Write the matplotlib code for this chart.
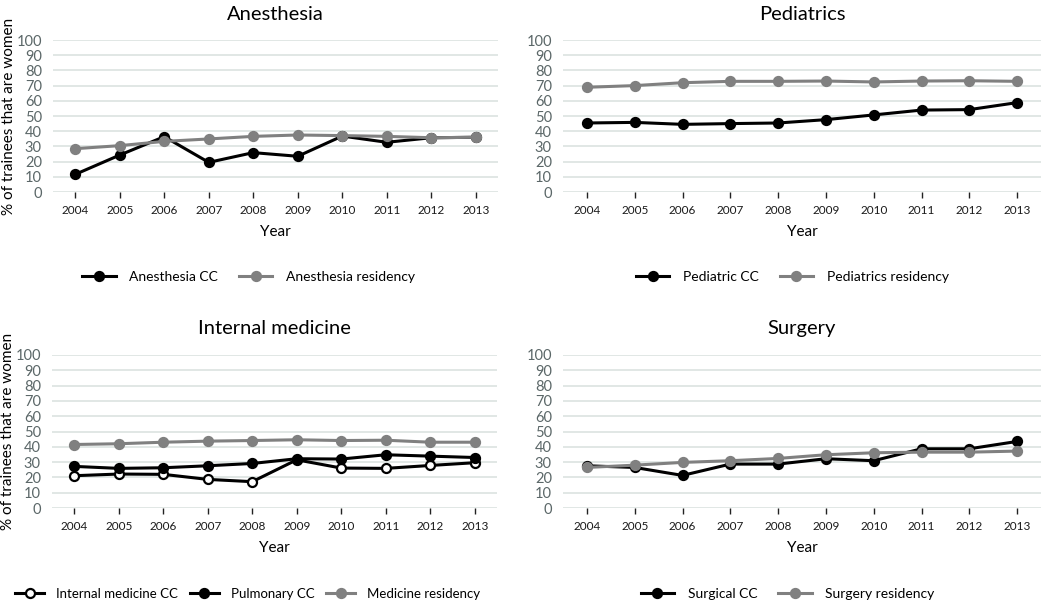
import matplotlib
matplotlib.use("Agg")
import matplotlib.pyplot as plt

years = ["2004", "2005", "2006", "2007", "2008", "2009", "2010", "2011", "2012", "2013"]

anesthesia_cc = [11.6, 24.3, 36.4, 19.5, 25.9, 23.5, 36.8, 32.7, 35.7, 36.0]
anesthesia_res = [28.5, 30.5, 33.3, 34.9, 36.6, 37.5, 37.1, 36.6, 35.7, 36.0]

pediatric_cc = [45.4, 45.8, 44.5, 45.0, 45.4, 47.6, 50.7, 53.9, 54.2, 58.8]
pediatric_res = [68.9, 70.0, 71.9, 72.8, 72.8, 73.0, 72.4, 73.0, 73.2, 72.8]

im_cc = [21.1, 22.2, 22.0, 18.7, 17.2, 31.5, 26.1, 25.9, 27.8, 29.6]
pulm_cc = [27.2, 25.9, 26.3, 27.6, 29.1, 32.2, 32.0, 34.8, 33.9, 33.0]
medicine_res = [41.5, 42.0, 43.0, 43.7, 44.1, 44.6, 44.1, 44.3, 43.0, 43.0]

surgical_cc = [27.6, 26.5, 21.3, 28.7, 28.7, 32.2, 30.9, 38.7, 38.7, 43.5]
surgery_res = [26.5, 28.0, 29.8, 30.9, 32.4, 34.8, 36.1, 36.5, 36.5, 37.2]

y_ticks = list(range(0, 101, 10))

plt.rcParams['font.family'] = ['Lato', 'DejaVu Sans']

W, H = 1050, 604
fig = plt.figure(figsize=(W / 100, H / 100), dpi=100)

BLACK = "#000000"
GRAY = "#808080"
GRID = "#dce3e0"
YTICK = "#5b6768"


def px_axes(l, r, t, b):
    return fig.add_axes([l / W, 1 - b / H, (r - l) / W, (b - t) / H])


def style(ax, title, ylabel, title_y):
    x = list(range(len(years)))
    ax.set_xlim(-0.5, len(years) - 0.5)
    ax.set_ylim(0, 100)
    ax.set_yticks(y_ticks)
    ax.set_xticks(x)
    ax.set_xticklabels(years, fontsize=8.5, color="#1a1a1a")
    ax.tick_params(axis='x', length=4, width=1, color="#222222", pad=5, direction='out')
    ax.tick_params(axis='y', length=0, labelsize=10.5, labelcolor=YTICK, pad=8)
    for s in ax.spines.values():
        s.set_visible(False)
    ax.grid(axis='y', color=GRID, linewidth=1.2)
    ax.set_axisbelow(True)
    ax.set_xlabel("Year", fontsize=11, labelpad=7)
    if ylabel:
        ax.set_ylabel("% of trainees that are women", fontsize=11, labelpad=0)
    ax.set_title(title, fontsize=14.5, y=title_y)


def plot_series(ax, vals, color, label, mfc=None):
    x = list(range(len(years)))
    ax.plot(x, vals, color=color, linewidth=2.2, marker='o', markersize=6.5,
            markerfacecolor=mfc if mfc else color, markeredgecolor=color,
            markeredgewidth=1.6, label=label, zorder=3)


LEG = dict(frameon=False, fontsize=10, handlelength=2.4, handletextpad=1.0)

# Top-left
ax1 = px_axes(53, 498, 40, 192)
plot_series(ax1, anesthesia_cc, BLACK, "Anesthesia CC")
plot_series(ax1, anesthesia_res, GRAY, "Anesthesia residency")
style(ax1, "Anesthesia", True, 1.08)
ax1.legend(loc='center', bbox_to_anchor=(0.44, -0.56), ncol=2, columnspacing=1.5, **LEG)

# Top-right
ax2 = px_axes(563, 1041, 40, 192)
plot_series(ax2, pediatric_cc, BLACK, "Pediatric CC")
plot_series(ax2, pediatric_res, GRAY, "Pediatrics residency")
style(ax2, "Pediatrics", False, 1.08)
ax2.legend(loc='center', bbox_to_anchor=(0.48, -0.56), ncol=2, columnspacing=1.5, **LEG)

# Bottom-left
ax3 = px_axes(52, 497, 355, 508)
plot_series(ax3, im_cc, BLACK, "Internal medicine CC", mfc="white")
plot_series(ax3, pulm_cc, BLACK, "Pulmonary CC")
plot_series(ax3, medicine_res, GRAY, "Medicine residency")
style(ax3, "Internal medicine", True, 1.08)
ax3.legend(loc='center', bbox_to_anchor=(0.44, -0.56), ncol=3, frameon=False,
           fontsize=9.5, handlelength=2.2, handletextpad=0.9, columnspacing=0.9)

# Bottom-right
ax4 = px_axes(563, 1041, 355, 508)
plot_series(ax4, surgical_cc, BLACK, "Surgical CC")
plot_series(ax4, surgery_res, GRAY, "Surgery residency")
style(ax4, "Surgery", False, 1.08)
ax4.legend(loc='center', bbox_to_anchor=(0.47, -0.56), ncol=2, columnspacing=1.5, **LEG)

fig.savefig("out.png", dpi=100)
